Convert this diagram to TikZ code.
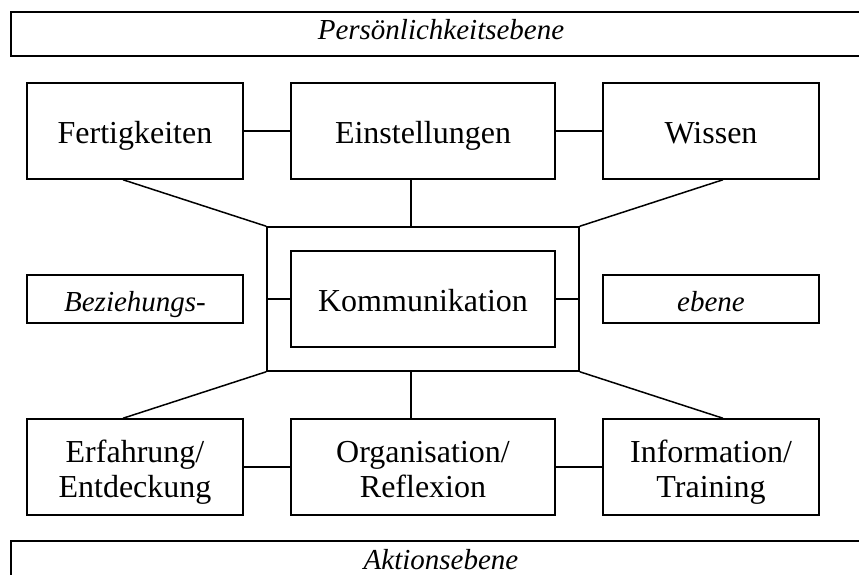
\documentclass[tikz,border=0pt]{standalone}
\usepackage{fontspec}
\setmainfont{Liberation Serif}
\usepackage{tikz}
\usetikzlibrary{positioning}

\begin{document}
\begin{tikzpicture}[x=1pt, y=1pt, node distance=288pt, line width=1.5pt]
    % Define box styles locally
    \tikzstyle{kasten} = [draw, rectangle, minimum width=216pt, minimum height=96pt, inner sep=0pt, align=center, text height=24pt, text depth=0pt, font=\fontsize{32}{35}\selectfont]
    \tikzstyle{breit} = [kasten, minimum width=264pt]
    \tikzstyle{zweizeilig} = [text height=60pt, text depth=0pt]
    \tikzstyle{ebene} = [draw, rectangle, minimum width=216pt, minimum height=48pt, inner sep=0pt, text height=24pt, text depth=0pt, font=\fontsize{29}{30}\selectfont\itshape]
    \tikzstyle{banner} = [draw, rectangle, line width=1.2pt, minimum width=860pt, minimum height=44pt, inner sep=0pt, text height=19pt, text depth=7pt, font=\fontsize{29}{30}\selectfont\itshape]
    \tikzstyle{rahmen} = [draw, rectangle, minimum width=312pt, minimum height=144pt, inner sep=0pt]

    \useasboundingbox (0,0) rectangle (859,-575);

    % Banners
    \node[banner] (Pers) at (441,-34) {Persönlichkeitsebene};
    \node[banner] (Akt) at (441,-563) {Aktionsebene};

    % Top row
    \node[kasten] (F) at (135,-131) {Fertigkeiten};
    \node[breit, right of=F] (E) {Einstellungen};
    \node[kasten, right of=E] (W) {Wissen};

    % Middle row
    \node[breit, node distance=168pt, below of=E] (K) {Kommunikation};
    \node[rahmen] (R) at (K) {};
    \node[ebene, left of=K] (B) {Beziehungs-};
    \node[ebene, right of=K] (Eb) {ebene};

    % Bottom row
    \node[kasten, zweizeilig, node distance=168pt, below of=B] (Erf) {Erfahrung/\\Entdeckung};
    \node[breit, zweizeilig, node distance=168pt, below of=K] (Org) {Organisation/\\Reflexion};
    \node[kasten, zweizeilig, node distance=168pt, below of=Eb] (Info) {Information/\\Training};

    % Connections in the rows
    \draw (F) -- (E);
    \draw (E) -- (W);
    \draw (Erf) -- (Org);
    \draw (Org) -- (Info);
    \draw (K.west) -- (R.west);
    \draw (K.east) -- (R.east);

    % Connections to the frame
    \draw ([xshift=-12pt]F.south) -- (R.north west);
    \draw ([xshift=-12pt]E.south) -- ([xshift=-12pt]R.north);
    \draw ([xshift=12pt]W.south) -- (R.north east);
    \draw (R.south west) -- ([xshift=-12pt]Erf.north);
    \draw ([xshift=-12pt]R.south) -- ([xshift=-12pt]Org.north);
    \draw (R.south east) -- ([xshift=12pt]Info.north);

\end{tikzpicture}
\end{document}
